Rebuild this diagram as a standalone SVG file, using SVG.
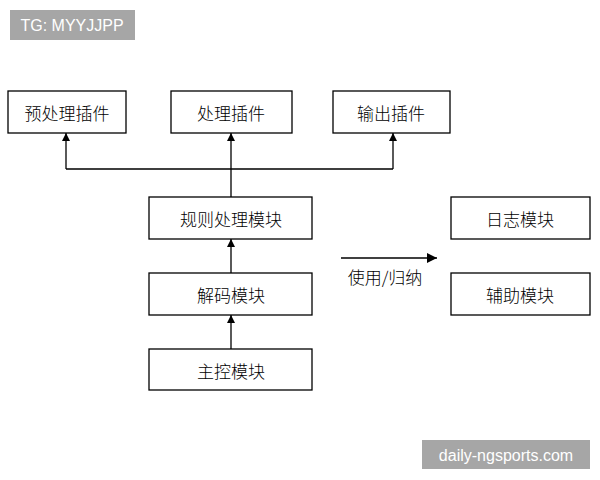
<svg xmlns="http://www.w3.org/2000/svg" width="600" height="480" viewBox="0 0 600 480">
<defs>
<style>
.b{fill:#fff;stroke:#000;stroke-width:1.3}
.t{font-family:"Noto Sans CJK SC","Liberation Sans",sans-serif;font-size:17px;font-weight:300;fill:#000;text-anchor:middle;dominant-baseline:central}
.w{font-family:"Liberation Sans",sans-serif;font-size:16px;fill:#fff;text-anchor:middle;dominant-baseline:central}
.c{stroke:#000;stroke-width:1.3;fill:none}
</style>
<marker id="a" viewBox="0 0 10 10" refX="10" refY="5" markerWidth="8" markerHeight="8" markerUnits="userSpaceOnUse" orient="auto"><path d="M0,0L10,5L0,10z" fill="#000"/></marker>
<marker id="a2" viewBox="0 0 10 10" refX="10" refY="5" markerWidth="10" markerHeight="10" markerUnits="userSpaceOnUse" orient="auto"><path d="M0,0L10,5L0,10z" fill="#000"/></marker>
</defs>
<rect width="600" height="480" fill="#fff"/>
<g id="wm1"><rect x="10" y="10" width="125" height="30" fill="#a6a6a6"/><text class="w" x="72" y="25">TG: MYYJJPP</text></g>
<g id="wm2"><rect x="422" y="440" width="168" height="29" fill="#a6a6a6"/><text class="w" x="506" y="455">daily-ngsports.com</text></g>
<g id="n1"><rect class="b" x="8" y="91" width="118" height="42"/><text class="t" x="67" y="112">预处理插件</text></g>
<g id="n2"><rect class="b" x="171" y="91" width="121" height="42"/><text class="t" x="231" y="112">处理插件</text></g>
<g id="n3"><rect class="b" x="333" y="91" width="117" height="42"/><text class="t" x="391" y="112">输出插件</text></g>
<g id="n4"><rect class="b" x="149" y="197" width="163" height="42"/><text class="t" x="231" y="218">规则处理模块</text></g>
<g id="n5"><rect class="b" x="451" y="197" width="139" height="42"/><text class="t" x="520" y="218">日志模块</text></g>
<g id="n6"><rect class="b" x="149" y="273" width="163" height="42"/><text class="t" x="231" y="294">解码模块</text></g>
<g id="n7"><rect class="b" x="451" y="273" width="139" height="42"/><text class="t" x="520" y="294">辅助模块</text></g>
<g id="n8"><rect class="b" x="149" y="349" width="163" height="41"/><text class="t" x="231" y="370">主控模块</text></g>
<g id="connectors">
<path class="c" d="M231,197V169M66,169H393"/>
<path class="c" d="M66,169V133" marker-end="url(#a)"/>
<path class="c" d="M231,169V133" marker-end="url(#a)"/>
<path class="c" d="M393,169V133" marker-end="url(#a)"/>
<path class="c" d="M231,273V239" marker-end="url(#a)"/>
<path class="c" d="M231,349V315" marker-end="url(#a)"/>
<path class="c" d="M341,258H437" marker-end="url(#a2)"/>
<text class="t" x="385" y="276">使用/归纳</text>
</g>
</svg>
